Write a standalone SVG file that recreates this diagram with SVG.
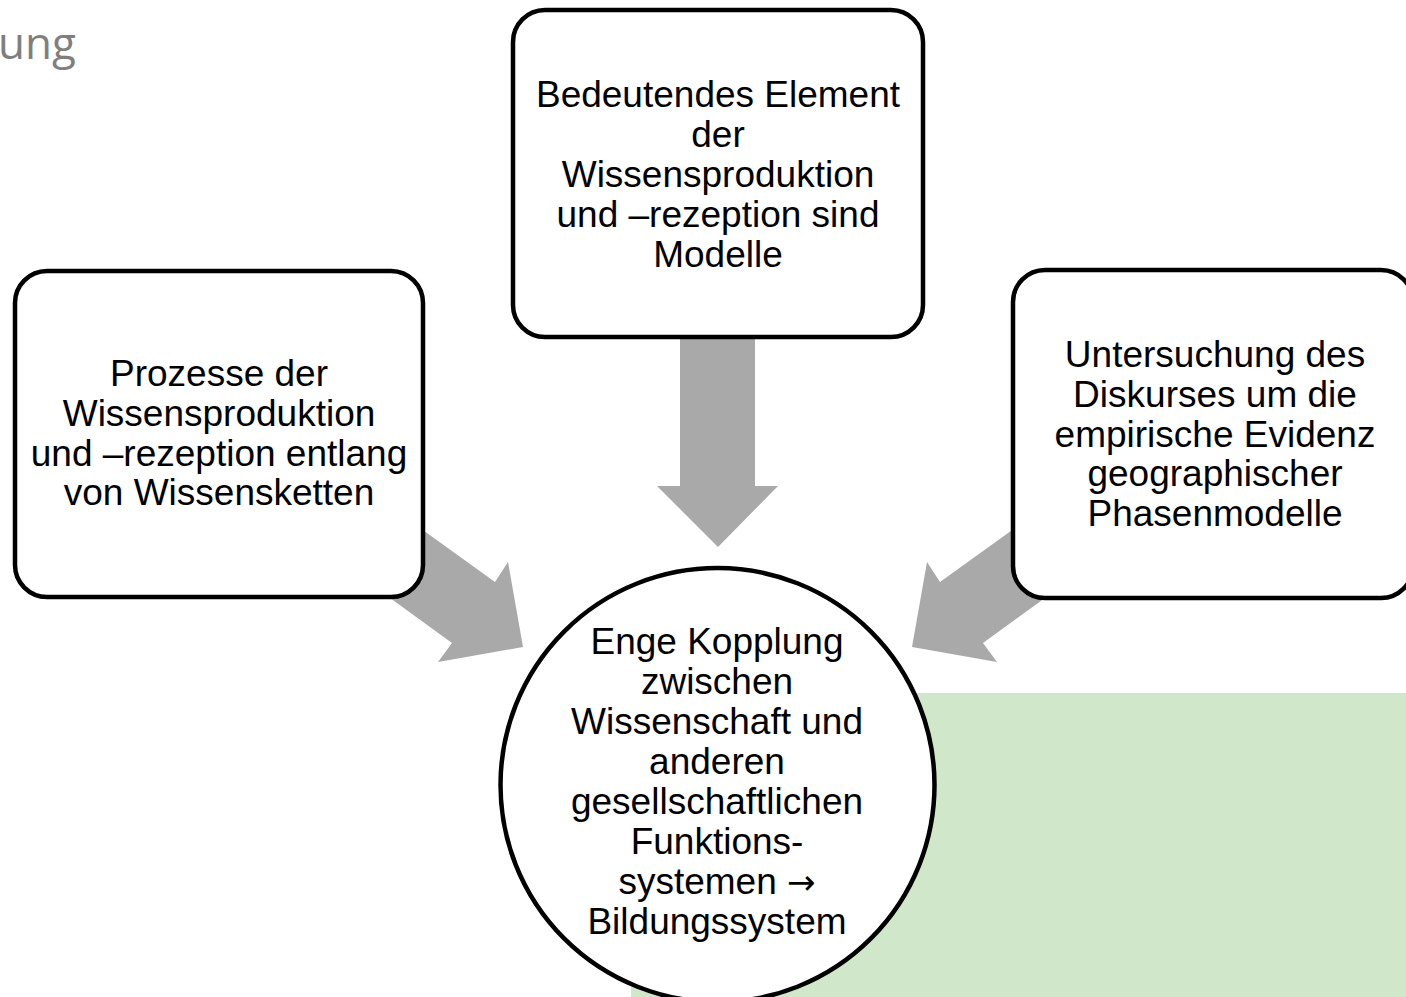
<svg xmlns="http://www.w3.org/2000/svg" width="1406" height="997" viewBox="0 0 1406 997">
<style>
.box{fill:#fff;stroke:#000;stroke-width:4.5}
.arr{fill:#a9a9a9}
.t{font-family:"Liberation Sans",Arial,sans-serif;font-size:37px;fill:#000;text-anchor:middle}
.sym{font-family:"DejaVu Sans",sans-serif;font-size:34px}
.title{font-family:"Open Sans","Liberation Sans",sans-serif;font-size:44px;fill:#7f7f7f}
</style>
<rect width="1406" height="997" fill="#fff"/>
<text class="title" x="-2" y="59">ung</text>
<rect x="631" y="693" width="775" height="304" fill="#d0e8c9"/>
<g id="connectors">
<polygon class="arr" points="680,330 755,330 755,486 778,486 718,547 657,486 680,486"/>
<polygon class="arr" points="420,528 495,582 508,562 523,647 438,662 452,643 390,598"/>
<polygon class="arr" points="1015,528 940,582 927,562 912,647 997,662 983,643 1045,598"/>
</g>
<g id="top">
<rect class="box" x="513" y="10" width="410" height="327" rx="32"/>
<text class="t" x="718" y="107">Bedeutendes Element</text>
<text class="t" x="718" y="147">der</text>
<text class="t" x="718" y="187">Wissensproduktion</text>
<text class="t" x="718" y="227">und –rezeption sind</text>
<text class="t" x="718" y="267">Modelle</text>
</g>
<g id="left">
<rect class="box" x="15" y="271" width="408" height="326" rx="32"/>
<text class="t" x="219" y="386">Prozesse der</text>
<text class="t" x="219" y="426">Wissensproduktion</text>
<text class="t" x="219" y="466">und –rezeption entlang</text>
<text class="t" x="219" y="505">von Wissensketten</text>
</g>
<g id="right">
<rect class="box" x="1013" y="270" width="400" height="328" rx="32"/>
<text class="t" x="1215" y="367">Untersuchung des</text>
<text class="t" x="1215" y="407">Diskurses um die</text>
<text class="t" x="1215" y="447">empirische Evidenz</text>
<text class="t" x="1215" y="486">geographischer</text>
<text class="t" x="1215" y="526">Phasenmodelle</text>
</g>
<g id="center">
<circle class="box" cx="717.5" cy="785" r="217"/>
<text class="t" x="717" y="654">Enge Kopplung</text>
<text class="t" x="717" y="694">zwischen</text>
<text class="t" x="717" y="734">Wissenschaft und</text>
<text class="t" x="717" y="774">anderen</text>
<text class="t" x="717" y="814">gesellschaftlichen</text>
<text class="t" x="717" y="854">Funktions-</text>
<text class="t" x="717" y="894">systemen <tspan class="sym">→</tspan></text>
<text class="t" x="717" y="934">Bildungssystem</text>
</g>
</svg>
